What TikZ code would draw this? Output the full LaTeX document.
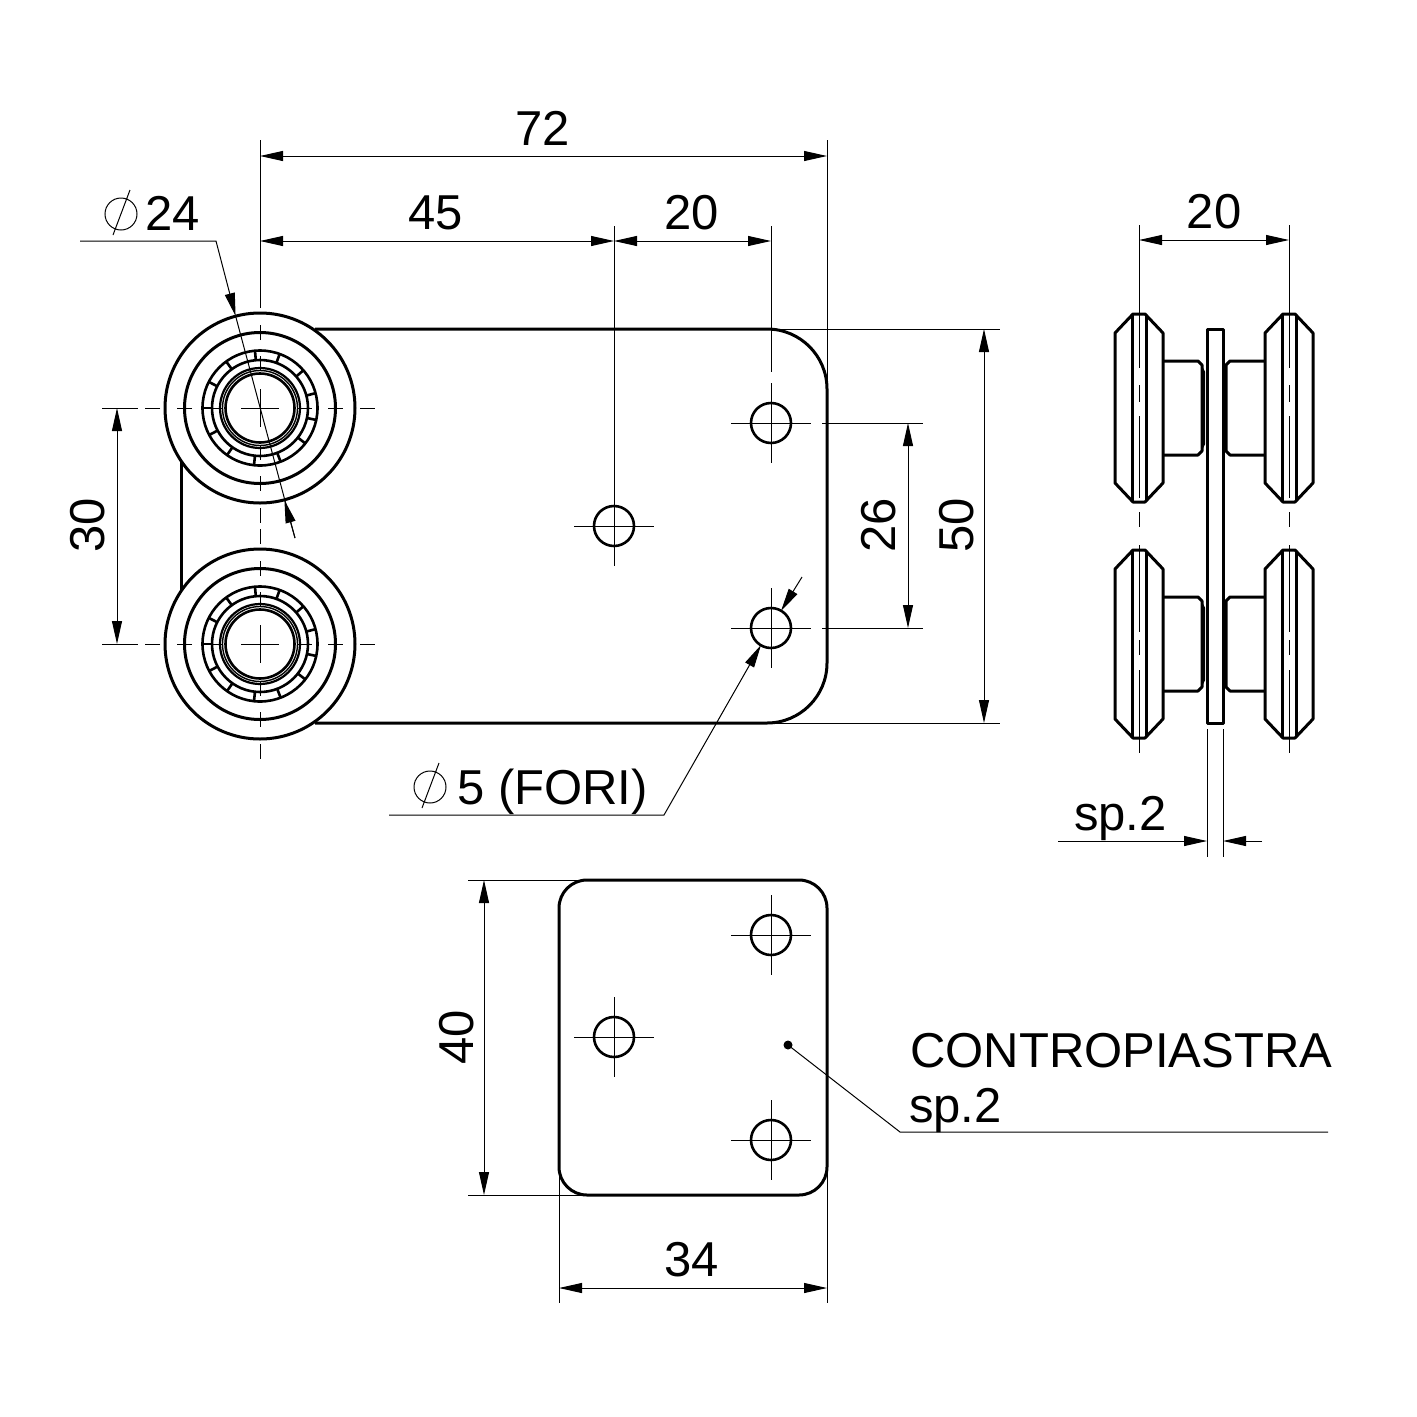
\documentclass[tikz,border=0pt]{standalone}
\usepackage{fontspec}
\setsansfont{Liberation Sans}
\usetikzlibrary{arrows.meta}
\newcommand{\dimfont}{\sffamily\fontsize{49}{56}\selectfont}
\tikzset{
  outline/.style={line width=3pt, line join=round},
  thin line/.style={line width=1pt},
  dimline/.style={line width=1pt, {Triangle[length=23pt,width=10pt]}-{Triangle[length=23pt,width=10pt]}},
  tipend/.style={line width=1pt, -{Triangle[length=23pt,width=10pt]}},
  dimtext/.style={font=\dimfont, inner sep=0pt},
  dimtextv/.style={font=\dimfont, inner sep=0pt, rotate=90}
}
\begin{document}
\begin{tikzpicture}[x=1pt,y=-1pt]
  \useasboundingbox (0,0) rectangle (1417,1417);

  % === MAIN PLATE ===
  \draw[outline] (315,329) -- (767,329) arc[start angle=90, end angle=0, radius=60pt]
    -- (827,663) arc[start angle=0, end angle=-90, radius=60pt] -- (315,723);
  \draw[outline] (181,461) -- (181,591);

  % rollers, front view
  \foreach \cy in {408,644} {
    \begin{scope}[shift={(260,\cy)}]
      \draw[outline] (0,0) circle[radius=95pt];
      \draw[outline] (0,0) circle[radius=75.5pt];
      \draw[line width=2.6pt] (0,0) circle[radius=57.5pt];
      \draw[line width=2.6pt] (0,0) circle[radius=48pt];
      \draw[line width=2.2pt] (0,0) circle[radius=40pt];
      \draw[line width=1.4pt] (0,0) circle[radius=37.5pt];
      \draw[line width=2.6pt] (0,0) circle[radius=34.5pt];
      \foreach \a in {95,70,41,15,-12,-38,-69,-96,-125,-152,180,153,126} {
        \draw[line width=2.6pt] (\a:48pt) -- (\a:57.5pt);
      }
      % centre lines
      \draw[thin line] (-19,0) -- (19,0) (0,-19) -- (0,19);
      \foreach \s in {-1,1} {
        \draw[thin line] (\s*37,0) -- (\s*52,0) (\s*68,0) -- (\s*83,0) (\s*100,0) -- (\s*115,0);
        \draw[thin line] (0,\s*37) -- (0,\s*52) (0,\s*68) -- (0,\s*83) (0,\s*100) -- (0,\s*115);
      }
    \end{scope}
    \draw[thin line] (102,\cy) -- (138,\cy);
  }

  % holes
  \foreach \hx/\hy in {771/423,771/628,614/526,771/935,771/1140,614/1037} {
    \draw[line width=2.6pt] (\hx,\hy) circle[radius=20pt];
    \draw[thin line] (\hx-40,\hy) -- (\hx+40,\hy) (\hx,\hy-40) -- (\hx,\hy+40);
  }

  % === DIMENSIONS, MAIN PLATE ===
  \draw[thin line] (260,140) -- (260,298);
  \draw[thin line] (827,140) -- (827,389);
  \draw[thin line] (771,226) -- (771,372);
  \draw[thin line] (614,226) -- (614,500);
  \draw[dimline] (260,156) -- (827,156);
  \node[dimtext] (label72) at (543,128) {72};
  \draw[dimline] (260,241) -- (614,241);
  \node[dimtext] (label45) at (436,213) {45};
  \draw[dimline] (614,241) -- (771,241);
  \node[dimtext] (label20) at (692,213) {20};

  \draw[dimline] (117,408) -- (117,644);
  \node[dimtextv] (label30) at (88,525) {30};

  \draw[thin line] (822,423) -- (923,423) (822,628) -- (923,628);
  \draw[dimline] (908,423) -- (908,628);
  \node[dimtextv] (label26) at (879,525) {26};

  \draw[thin line] (771,329) -- (1000,329) (771,723) -- (1000,723);
  \draw[dimline] (984,329) -- (984,723);
  \node[dimtextv] (label50) at (957,525) {50};

  % diameter 24
  \draw[thin line] (121,214) circle[radius=16pt] (113,235) -- (130,190);
  \node[dimtext, anchor=base west] (labeldia24) at (145,230) {24};
  \draw[tipend] (80,241) -- (216,241) -- (235.6,316);
  \draw[thin line] (235.6,316) -- (295,538);
  \draw[tipend] (295,538) -- (284.4,500);

  % diameter 5
  \draw[thin line] (430,787) circle[radius=16pt] (422,808) -- (439,763);
  \node[dimtext, anchor=base west] (labeldia5) at (457,804) {5 (FORI)};
  \draw[tipend] (389,815) -- (664,815) -- (761,645);
  \draw[tipend] (802,577) -- (781,611);

  % === SIDE VIEW ===
  \foreach \cy in {408,644} {
    \foreach \cx/\sg in {1139/1,1289/-1} {
      \begin{scope}[shift={(\cx,\cy)}, xscale=\sg]
        \draw[outline] (-24,-75) -- (-6,-94) -- (6,-94) -- (24,-75) -- (24,75) -- (6,94) -- (-6,94) -- (-24,75) -- cycle;
        \draw[outline] (-7,-93) -- (-7,93) (7,-93) -- (7,93);
        \draw[outline] (24,-47) -- (59,-47) -- (63,-43) -- (63,43) -- (59,47) -- (24,47);
        \draw[line width=2pt] (63,-40) -- (65,-36) -- (65,36) -- (63,40);
      \end{scope}
    }
  }
  \draw[outline] (1207,723) rectangle (1223,329);

  % centre lines, side view
  \foreach \cx in {1139,1289} {
    \draw[thin line] (\cx,225) -- (\cx,368) (\cx,385) -- (\cx,402) (\cx,416) -- (\cx,498) (\cx,512) -- (\cx,527);
    \draw[thin line] (\cx,545) -- (\cx,632) (\cx,640) -- (\cx,655) (\cx,670) -- (\cx,753);
  }
  \draw[dimline] (1139,240) -- (1289,240);
  \node[dimtext] (labelside20) at (1214,212) {20};

  \draw[thin line] (1207,729) -- (1207,857) (1223,729) -- (1223,857);
  \draw[tipend] (1058,841) -- (1207,841);
  \draw[tipend] (1262,841) -- (1223,841);
  \node[dimtext, anchor=base west] (labelsp) at (1074,830) {sp.2};

  % === COUNTER PLATE ===
  \draw[outline, rounded corners=28pt] (559,880) rectangle (827,1195);
  \draw[thin line] (468,880) -- (585,880) (468,1195) -- (585,1195);
  \draw[dimline] (484,880) -- (484,1195);
  \node[dimtextv] (label40) at (457,1037) {40};
  \draw[thin line] (559,1170) -- (559,1303) (827,1170) -- (827,1303);
  \draw[dimline] (559,1288) -- (827,1288);
  \node[dimtext] (label34) at (692,1260) {34};

  \fill (788,1045) circle[radius=4.5pt];
  \draw[thin line] (788,1045) -- (900,1132) -- (1328,1132);
  \node[dimtext, anchor=base west] (labelcontro) at (910,1067) {CONTROPIASTRA};
  \node[dimtext, anchor=base west] (labelsp2) at (909,1122) {sp.2};
\end{tikzpicture}
\end{document}
